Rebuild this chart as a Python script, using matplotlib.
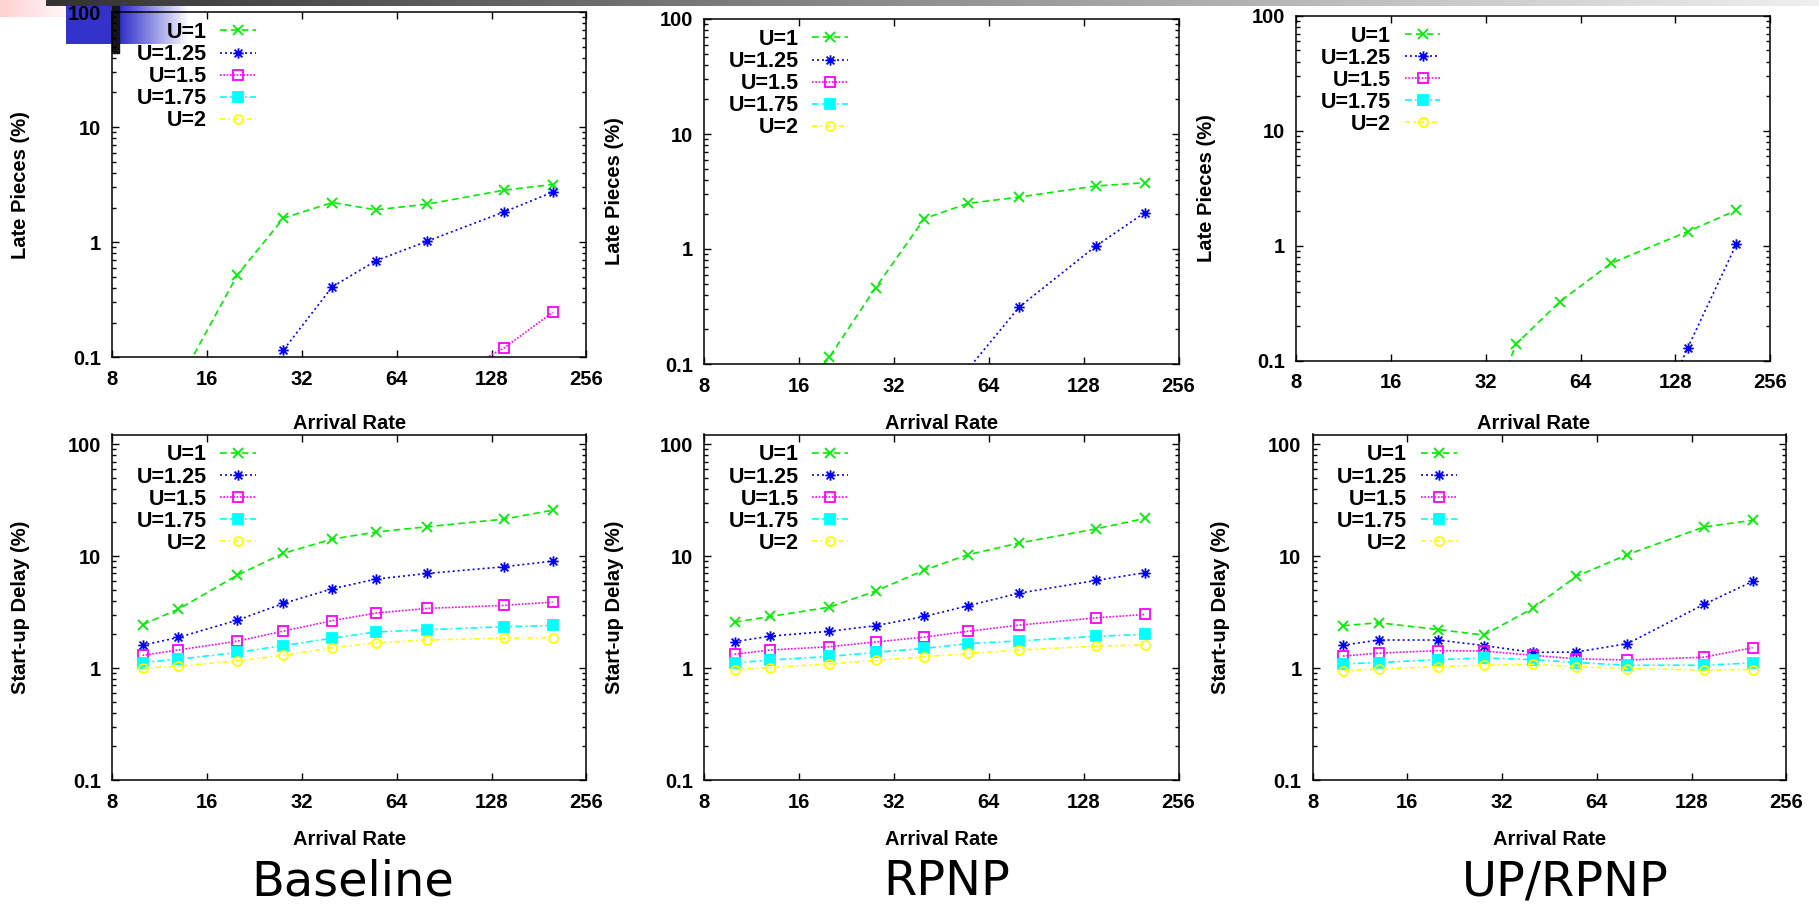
import numpy as np
import matplotlib
matplotlib.use('Agg')
import matplotlib.pyplot as plt
from matplotlib.path import Path
from matplotlib.ticker import FixedLocator, NullLocator, LogLocator, NullFormatter

nan = np.nan

# arrival rates (x axis, log2)
rates = [10, 13, 20, 28, 40, 55, 80, 140, 200]
series = ['U=1', 'U=1.25', 'U=1.5', 'U=1.75', 'U=2']

# Late pieces (%) - top row
late_baseline = {
    'U=1':    [nan, 0.06, 0.52, 1.62, 2.21, 1.91, 2.14, 2.83, 3.17],
    'U=1.25': [nan, nan, 0.02, 0.116, 0.41, 0.69, 1.02, 1.83, 2.72],
    'U=1.5':  [nan, nan, nan, nan, nan, nan, 0.053, 0.12, 0.246],
    'U=1.75': [nan] * 9,
    'U=2':    [nan] * 9,
}
late_rpnp = {
    'U=1':    [nan, 0.025, 0.115, 0.46, 1.84, 2.49, 2.83, 3.53, 3.77],
    'U=1.25': [nan, nan, nan, nan, nan, 0.09, 0.313, 1.06, 2.07],
    'U=1.5':  [nan] * 9,
    'U=1.75': [nan] * 9,
    'U=2':    [nan] * 9,
}
late_uprpnp = {
    'U=1':    [nan, nan, nan, 0.012, 0.141, 0.328, 0.707, 1.33, 2.04],
    'U=1.25': [nan, nan, nan, nan, nan, nan, 0.004, 0.129, 1.03],
    'U=1.5':  [nan] * 9,
    'U=1.75': [nan] * 9,
    'U=2':    [nan] * 9,
}

# Start-up delay (%) - bottom row
delay_baseline = {
    'U=1':    [2.44, 3.36, 6.77, 10.6, 14.2, 16.4, 18.3, 21.4, 25.7],
    'U=1.25': [1.60, 1.88, 2.68, 3.78, 5.11, 6.23, 7.0, 8.03, 9.02],
    'U=1.5':  [1.30, 1.45, 1.74, 2.14, 2.65, 3.10, 3.41, 3.63, 3.88],
    'U=1.75': [1.12, 1.20, 1.38, 1.59, 1.85, 2.10, 2.20, 2.34, 2.40],
    'U=2':    [1.00, 1.04, 1.16, 1.30, 1.52, 1.68, 1.78, 1.85, 1.87],
}
delay_rpnp = {
    'U=1':    [2.57, 2.89, 3.50, 4.87, 7.50, 10.3, 13.1, 17.5, 21.7],
    'U=1.25': [1.72, 1.93, 2.13, 2.39, 2.89, 3.60, 4.67, 6.06, 7.10],
    'U=1.5':  [1.33, 1.45, 1.55, 1.71, 1.89, 2.13, 2.42, 2.81, 3.01],
    'U=1.75': [1.11, 1.18, 1.27, 1.38, 1.50, 1.65, 1.75, 1.92, 2.00],
    'U=2':    [0.97, 1.01, 1.09, 1.17, 1.26, 1.35, 1.45, 1.57, 1.61],
}
delay_uprpnp = {
    'U=1':    [2.39, 2.54, 2.21, 1.97, 3.41, 6.58, 10.3, 18.2, 20.9],
    'U=1.25': [1.60, 1.78, 1.78, 1.59, 1.38, 1.39, 1.65, 3.70, 5.94],
    'U=1.5':  [1.28, 1.36, 1.43, 1.42, 1.30, 1.21, 1.18, 1.25, 1.52],
    'U=1.75': [1.09, 1.12, 1.19, 1.23, 1.19, 1.12, 1.06, 1.06, 1.11],
    'U=2':    [0.95, 0.98, 1.03, 1.06, 1.08, 1.03, 0.99, 0.96, 0.97],
}

titles = ['Baseline', 'RPNP', 'UP/RPNP']

# gnuplot's "*" point: + and x on top of each other
d = 0.75
star = Path([(-1, 0), (1, 0), (0, -1), (0, 1), (-d, -d), (d, d), (-d, d), (d, -d)],
            [Path.MOVETO, Path.LINETO] * 4)

styles = {
    'U=1':    dict(color='#00ee00', ls=(0, (4, 2.5)), marker='x', mfc='none', ms=7),
    'U=1.25': dict(color='#0000ff', ls=(0, (1.2, 1.8)), marker=star, mfc='none', ms=7.5),
    'U=1.5':  dict(color='#ff00ff', ls=(0, (1, 1)), marker='s', mfc='none', ms=6.5),
    'U=1.75': dict(color='#00ffff', ls=(0, (4, 2, 1, 2)), marker='s', mfc='#00ffff', ms=6.5),
    'U=2':    dict(color='#ffff00', ls=(0, (3, 2, 1, 2)), marker='o', mfc='none', ms=6.5),
}

W, H = 1819, 906
fig = plt.figure(figsize=(W / 100, H / 100), dpi=100)

# slide decoration behind the charts
bg = fig.add_axes([0, 0, 1, 1], zorder=-5)
bg.axis('off')
grad = np.linspace(0, 1, 256).reshape(1, -1)
pink = np.dstack([np.ones_like(grad), 0.82 + 0.18 * grad, 0.82 + 0.18 * grad])
bg.imshow(pink, extent=(0, 80, 17, 0), aspect='auto')
gray = np.dstack([0.2 + 0.74 * grad] * 3)
bg.imshow(gray, extent=(46, W, 6, 0), aspect='auto')
blue_t = np.clip((np.linspace(0, 1, 256) - 0.45) / 0.55, 0, 1).reshape(1, -1)
blue = np.dstack([0.2 + 0.8 * blue_t, 0.2 + 0.8 * blue_t, 0.8 + 0.2 * blue_t])
bg.imshow(blue, extent=(66, 188, 44, 6), aspect='auto')
bg.fill_between([112, 119], [6, 6], [53, 53], color='#151515')
bg.set_xlim(0, W)
bg.set_ylim(H, 0)

boxes = [
    [(112, 12, 586.4, 357.3), (704, 19, 1178.5, 364), (1296.3, 15.7, 1770, 361)],
    [(112, 434.5, 586.4, 780), (704, 434.5, 1178.5, 780), (1312.5, 434.5, 1786.3, 780)],
]
ylabel_x = [[30, 624, 1216], [30, 624, 1230]]
xlabel_top = [414, 830]
data = [[late_baseline, late_rpnp, late_uprpnp],
        [delay_baseline, delay_rpnp, delay_uprpnp]]
ylabels = ['Late Pieces (%)', 'Start-up Delay (%)']
ytops = [100, 122]

bold = dict(family='Liberation Sans', weight='bold')
tick_fs = 14.5

for r in range(2):
    for c in range(3):
        l, t, rr, b = boxes[r][c]
        ax = fig.add_axes([l / W, 1 - b / H, (rr - l) / W, (b - t) / H])
        ax.patch.set_alpha(0)
        for name in series:
            st = styles[name]
            ax.plot(rates, data[r][c][name], color=st['color'], linestyle=st['ls'],
                    lw=1.2, marker=st['marker'], ms=st['ms'], mfc=st['mfc'],
                    mec=st['color'], mew=1.3, label=name)
        ax.set_xscale('log', base=2)
        ax.set_yscale('log')
        ax.set_xlim(8, 256)
        ax.set_ylim(0.1, ytops[r])
        ax.xaxis.set_major_locator(FixedLocator([8, 16, 32, 64, 128, 256]))
        ax.xaxis.set_minor_locator(NullLocator())
        ax.set_xticklabels(['8', '16', '32', '64', '128', '256'])
        ax.yaxis.set_major_locator(FixedLocator([0.1, 1, 10, 100]))
        ax.set_yticklabels(['0.1', '1', '10', '100'])
        ax.yaxis.set_minor_locator(LogLocator(base=10, subs=np.arange(2, 10)))
        ax.yaxis.set_minor_formatter(NullFormatter())
        ax.tick_params(which='both', direction='in', top=True, right=True, width=1)
        ax.tick_params(which='major', length=5)
        ax.tick_params(which='minor', length=3)
        ax.tick_params(axis='x', pad=9)
        ax.tick_params(axis='y', pad=8)
        for lab in ax.get_xticklabels() + ax.get_yticklabels():
            lab.set_fontsize(tick_fs)
            lab.set_fontfamily('Liberation Sans')
            lab.set_fontweight('bold')
        for sp in ax.spines.values():
            sp.set_linewidth(1.1)
        hpx = b - t
        wpx = rr - l
        ax.set_xlabel('Arrival Rate', fontsize=tick_fs, **bold)
        ax.xaxis.set_label_coords(0.5, -(xlabel_top[r] - b) / hpx)
        ax.set_ylabel(ylabels[r], fontsize=tick_fs, **bold)
        ax.yaxis.set_label_coords((ylabel_x[r][c] - l) / wpx, 0.5)
        ax.legend(loc='upper right', bbox_to_anchor=(144 / wpx, 1 - 10 / hpx),
                  frameon=False, markerfirst=False, borderpad=0, borderaxespad=0,
                  handlelength=1.65, handletextpad=0.65, labelspacing=0.05,
                  prop=dict(family='Liberation Sans', weight='bold', size=15.5))

title_x = [353, 947, 1565]
for c in range(3):
    fig.text(title_x[c] / W, 1 - 895 / H, titles[c], ha='center', va='baseline',
             fontsize=34.5, family='DejaVu Sans')

fig.savefig('out.png', dpi=100)
